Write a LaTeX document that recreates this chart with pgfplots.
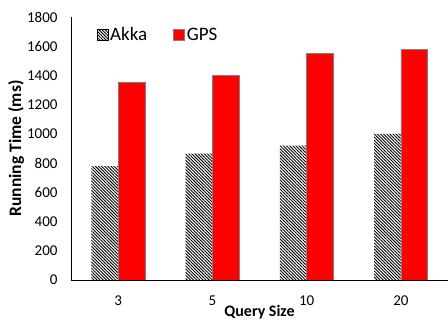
\documentclass[border=0pt]{standalone}
\usepackage{fontspec}
\setmainfont{Carlito}
\usepackage{pgfplots}
\pgfplotsset{compat=1.18}
\usetikzlibrary{patterns.meta}
\begin{document}
\begin{tikzpicture}[x=1pt,y=1pt]
\begin{axis}[
  at={(71pt,46pt)}, anchor=south west,
  scale only axis, width=377pt, height=263pt,
  ymin=0, ymax=1800, ytick={0,200,...,1800},
  xmin=-0.5, xmax=3.5, xtick={0,1,2,3}, xticklabels={3,5,10,20},
  axis x line*=bottom, axis y line*=left,
  axis line style={black, line width=0.8pt, -},
  major tick length=0pt,
  tick label style={font=\fontsize{15}{17}\selectfont},
  /pgf/number format/assume math mode=true,
  /pgf/number format/1000 sep={},
  yticklabel style={xshift=-10pt},
  xticklabel style={yshift=-12pt},
  ylabel={\bfseries Running Time (ms)},
  xlabel={\bfseries Query Size},
  ylabel style={font=\fontsize{17.5}{20}\selectfont, yshift=-4pt},
  xlabel style={font=\fontsize{16}{18}\selectfont, yshift=5pt, inner sep=1pt},
  legend style={at={(0.06,0.975)}, anchor=north west, draw=none, fill=none,
    nodes={font=\fontsize{19}{21}\selectfont}, legend columns=2,
    /tikz/every even column/.style={column sep=24pt}},
  legend image code/.code={\draw[#1] (0pt,-5pt) rectangle (11pt,6pt);},
]
\addplot[ybar, bar width=0.284, bar shift=-0.142, draw=none,
  pattern={Lines[angle=-45,distance=2.2pt,line width=0.9pt]}, pattern color=black]
  coordinates {(0,780) (1,865) (2,920) (3,1000)};
\addlegendentry{Akka}
\addplot[ybar, bar width=0.284, bar shift=0.142, draw=gray, line width=0.6pt, fill=red]
  coordinates {(0,1350) (1,1400) (2,1550) (3,1580)};
\addlegendentry{GPS}
\end{axis}
\pgfresetboundingbox
\useasboundingbox (0,0) rectangle (448,326);
\end{tikzpicture}
\end{document}
